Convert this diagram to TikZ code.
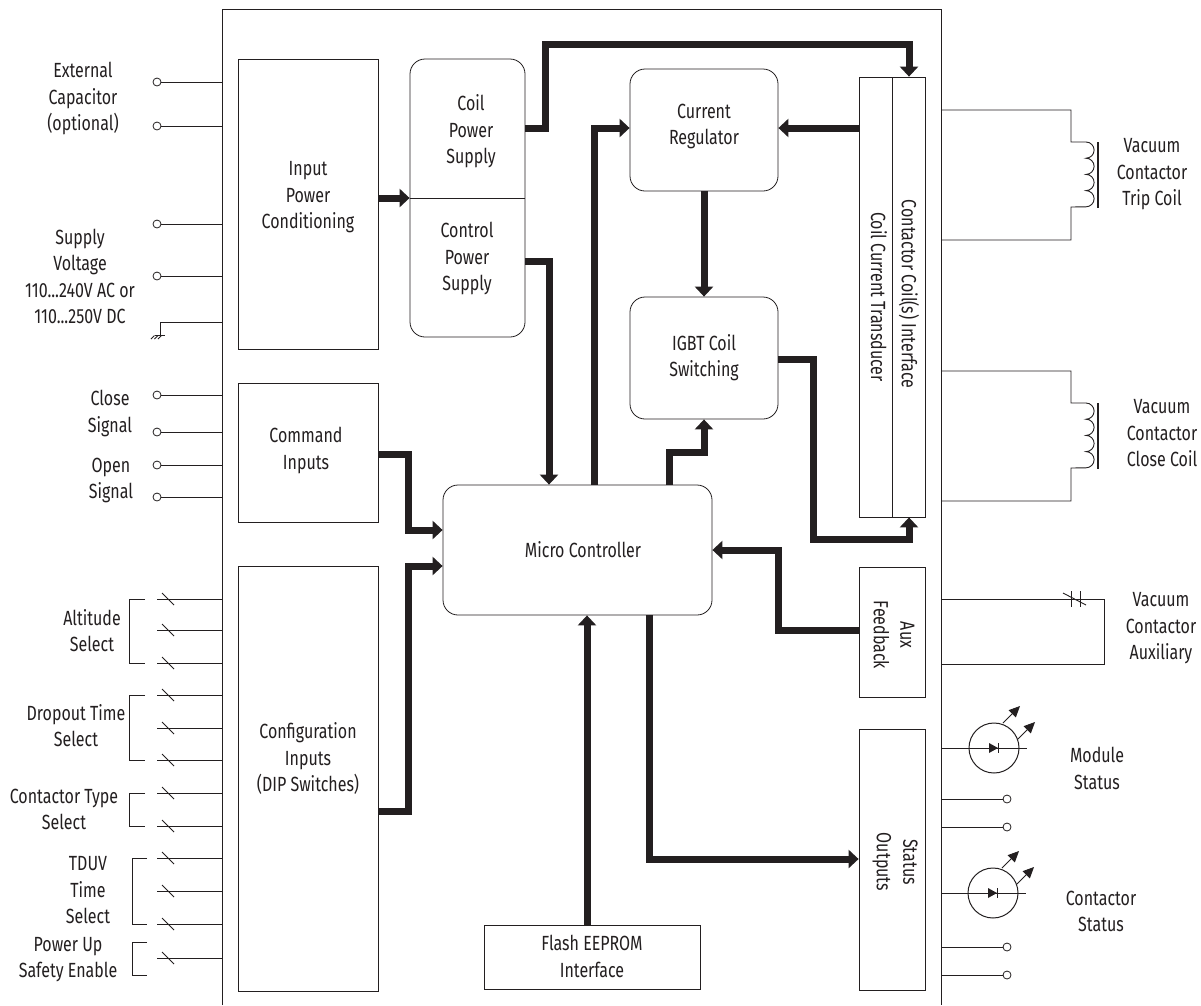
\documentclass[tikz,border=0pt]{standalone}
\usepackage{fontspec}
\setmainfont[FakeStretch=0.78]{Fira Sans}
\usetikzlibrary{arrows.meta, calc}
\definecolor{ink}{HTML}{231F20}
\tikzset{
 block/.style={draw=ink, line width=0.8pt, rectangle, inner sep=0pt},
 rblock/.style={block, rounded corners=15pt},
 lbl/.style={text=ink, font=\fontsize{20.5}{26.5}\selectfont, align=center, inner sep=0pt, yshift=-1.5pt},
 bus/.style={draw=ink, line width=7pt, -{Triangle[length=10pt, width=18pt]}},
 wire/.style={draw=ink, line width=0.9pt},
 term/.style={circle, draw=ink, line width=0.8pt, fill=white, minimum size=8pt, inner sep=0pt},
 led/.style={circle, draw=ink, line width=1pt, minimum size=50pt, inner sep=0pt},
 ray/.style={draw=ink, line width=0.8pt, -{Triangle[length=11pt, width=10pt]}}
}
\begin{document}
\begin{tikzpicture}[x=1pt, y=-1pt]
 \useasboundingbox (0,0) rectangle (1201,1005);
 \fill[white] (0,0) rectangle (1201,1005);
 \coordinate (frameL) at (222,0);
 \coordinate (frameR) at (941,0);
 \draw[wire] (222,1005) -- (222,9) -- (941,9) -- (941,1005);

 \node[block, minimum width=140pt, minimum height=290pt] (input) at (308,204) {};
 \node[rblock, minimum width=115pt, minimum height=278pt] (psu) at (467.5,198) {};
 \node[block, minimum width=140pt, minimum height=139pt] (command) at (308,452.5) {};
 \node[block, minimum width=140pt, minimum height=425pt] (config) at (308,778.5) {};
 \node[rblock, minimum width=148pt, minimum height=122pt] (current) at (704,130) {};
 \node[rblock, minimum width=148pt, minimum height=122pt] (igbt) at (704,358) {};
 \node[rblock, minimum width=269pt, minimum height=130pt] (micro) at (577.5,550) {};
 \node[block, minimum width=216pt, minimum height=64pt] (flash) at (592,957) {};
 \node[block, minimum width=33pt, minimum height=440pt] (transducer) at (875.5,297) {};
 \node[block, minimum width=33pt, minimum height=440pt] (interface) at (908.5,297) {};
 \node[block, minimum width=66pt, minimum height=130pt] (aux) at (892,632) {};
 \node[block, minimum width=66pt, minimum height=261pt] (status) at (892,859.5) {};
 \draw[wire] (psu.west) -- (psu.east);

 \node[lbl] (inputtxt) at (308,196) {Input\\Power\\Conditioning};
 \node[lbl] (coiltxt) at (471,130) {Coil\\Power\\Supply};
 \node[lbl] (controltxt) at (467,257) {Control\\Power\\Supply};
 \node[lbl] (commandtxt) at (306,449) {Command\\Inputs};
 \node[lbl] (configtxt) at (308,757) {Configuration\\Inputs\\(DIP Switches)};
 \node[lbl] (currenttxt) at (704,125) {Current\\Regulator};
 \node[lbl] (igbttxt) at (704,356) {IGBT Coil\\Switching};
 \node[lbl] (microtxt) at (583,548) {Micro Controller};
 \node[lbl] (flashtxt) at (592,955) {Flash EEPROM\\Interface};
 \node[lbl, rotate=-90] (interfacetxt) at (909,292.5) {Contactor Coil(s) Interface};
 \node[lbl, rotate=-90] (transducertxt) at (879,295.5) {Coil Current Transducer};
 \node[lbl, rotate=-90] (auxtxt) at (894,633.5) {Aux\\Feedback};
 \node[lbl, rotate=-90] (statustxt) at (895,860.5) {Status\\Outputs};

 \draw[bus] (input.east |- psu.east) -- (psu.west);
 \draw[bus] (psu.east |- 0,128) -- (545,128) -- (545,44) -- (909,44) -- (909,0 |- interface.north);
 \draw[bus] (psu.east |- 0,261) -- (549,261) -- (549,0 |- micro.north);
 \draw[bus] (594,0 |- micro.north) -- (594,128) -- (current.west |- 0,128);
 \draw[bus] (transducer.west |- 0,128) -- (current.east |- 0,128);
 \draw[bus] (current.south) -- (igbt.north);
 \draw[bus] (669,0 |- micro.north) -- (669,452) -- (704,452) -- (igbt.south);
 \draw[bus] (igbt.east |- 0,359) -- (813,359) -- (813,539) -- (909,539) -- (909,0 |- interface.south);
 \draw[bus] (aux.west |- 0,630) -- (778,630) -- (778,550) -- (micro.east |- 0,550);
 \draw[bus] (649,0 |- micro.south) -- (649,859) -- (status.west |- 0,859);
 \draw[bus] (587,0 |- flash.north) -- (587,0 |- micro.south);
 \draw[bus] (command.east |- 0,454) -- (408,454) -- (408,530) -- (micro.west |- 0,530);
 \draw[bus] (config.east |- 0,811) -- (408,811) -- (408,566) -- (micro.west |- 0,566);

 \foreach \n/\y in {cap1/82, cap2/126, sup1/224, sup2/276, clo1/395, clo2/432, ope1/465, ope2/497} {
  \node[term] (t\n) at (157,\y) {};
  \draw[wire] (t\n) -- (t\n -| frameL);
 }
 \coordinate (gnd) at (160,322);
 \draw[wire] (gnd) -- (gnd -| frameL);
 \draw[wire] (gnd) -- (160,335);
 \draw[wire] (155,335) -- (165,335);
 \foreach \x in {151,154.5,158} \draw[wire] (\x+3.5,335.5) -- (\x,339);

 \foreach \n/\y in {a/599, b/630, c/663, d/695, e/728, f/760, g/793, h/826, i/858, j/891, k/924, l/958} {
  \coordinate (sw\n) at (157,\y);
  \draw[wire] (sw\n) -- (sw\n -| frameL);
  \draw[wire] (162,\y-6) -- (174,\y+6);
 }
 \draw[wire] (145,599) -- (129,599) -- (129,663) -- (145,663);
 \draw[wire] (145,695) -- (129,695) -- (129,760) -- (145,760);
 \draw[wire] (145,793) -- (129,793) -- (129,826) -- (145,826);
 \draw[wire] (147,858) -- (132,858) -- (132,924) -- (147,924);
 \draw[wire] (147,942) -- (132,942) -- (132,975) -- (147,975);

 \foreach \t/\m in {110/142, 371/403} {
  \coordinate (coilA) at (frameR |- 0,\t);
  \draw[wire] (coilA) -- (1071,\t) -- (1071,\m) -- (1086,\m)
   arc[start angle=90, end angle=-90, radius=8.1pt]
   arc[start angle=90, end angle=-90, radius=8.1pt]
   arc[start angle=90, end angle=-90, radius=8.1pt]
   arc[start angle=90, end angle=-90, radius=8.1pt]
   -- (1071,\m+65) -- (1071,\m+98) -- (frameR |- 0,\m+98);
  \draw[wire, line width=1.2pt] (1098,\m) -- (1098,\m+66);
 }

 \draw[wire] (frameR |- 0,599) -- (1104,599) -- (1104,664) -- (frameR |- 0,664);
 \draw[wire] (1071,591) -- (1071,607);
 \draw[wire] (1080,591) -- (1080,607);
 \draw[wire] (1063,593) -- (1086,605);

 \node[led] (ledA) at (994,748) {};
 \node[led] (ledB) at (993,893) {};
 \foreach \s/\o in {ledA/0, ledB/-1} {
  \draw[wire] (\s -| frameR) -- (1027+\o,0 |- \s);
  \fill[ink] ($(\s)+(-5,-5)$) -- ($(\s)+(4,0)$) -- ($(\s)+(-5,5)$) -- cycle;
  \draw[wire] ($(\s)+(4.5,-5)$) -- ($(\s)+(4.5,5)$);
  \draw[ray] ($(\s)+(9,-25)$) -- ($(\s)+(26,-42)$);
  \draw[ray] ($(\s)+(24,-9)$) -- ($(\s)+(41,-26)$);
 }
 \foreach \n/\y in {m1/799, m2/827, c1/947, c2/975} {
  \node[term] (o\n) at (1007,\y) {};
  \draw[wire] (o\n) -- (o\n -| frameR);
 }

 \node[lbl] (extlbl) at (83,97) {External\\Capacitor\\(optional)};
 \node[lbl] (suplbl) at (80,275) {Supply\\Voltage\\110...240V AC or\\110...250V DC};
 \node[lbl] (clolbl) at (110,412) {Close\\Signal};
 \node[lbl] (opelbl) at (111,479) {Open\\Signal};
 \node[lbl] (altlbl) at (92,629) {Altitude\\Select};
 \node[lbl] (droplbl) at (76,724) {Dropout Time\\Select};
 \node[lbl] (typelbl) at (64,808) {Contactor Type\\Select};
 \node[lbl] (tdulbl) at (88,889) {TDUV\\Time\\Select};
 \node[lbl] (powlbl) at (68,958) {Power Up\\Safety Enable};
 \node[lbl] (triplbl) at (1152,173) {Vacuum\\Contactor\\Trip Coil};
 \node[lbl] (closelbl) at (1162,432) {Vacuum\\Contactor\\Close Coil};
 \node[lbl] (auxlbl) at (1161,627) {Vacuum\\Contactor\\Auxiliary};
 \node[lbl] (modlbl) at (1097,767) {Module\\Status};
 \node[lbl] (conlbl) at (1101,910) {Contactor\\Status};
\end{tikzpicture}
\end{document}
